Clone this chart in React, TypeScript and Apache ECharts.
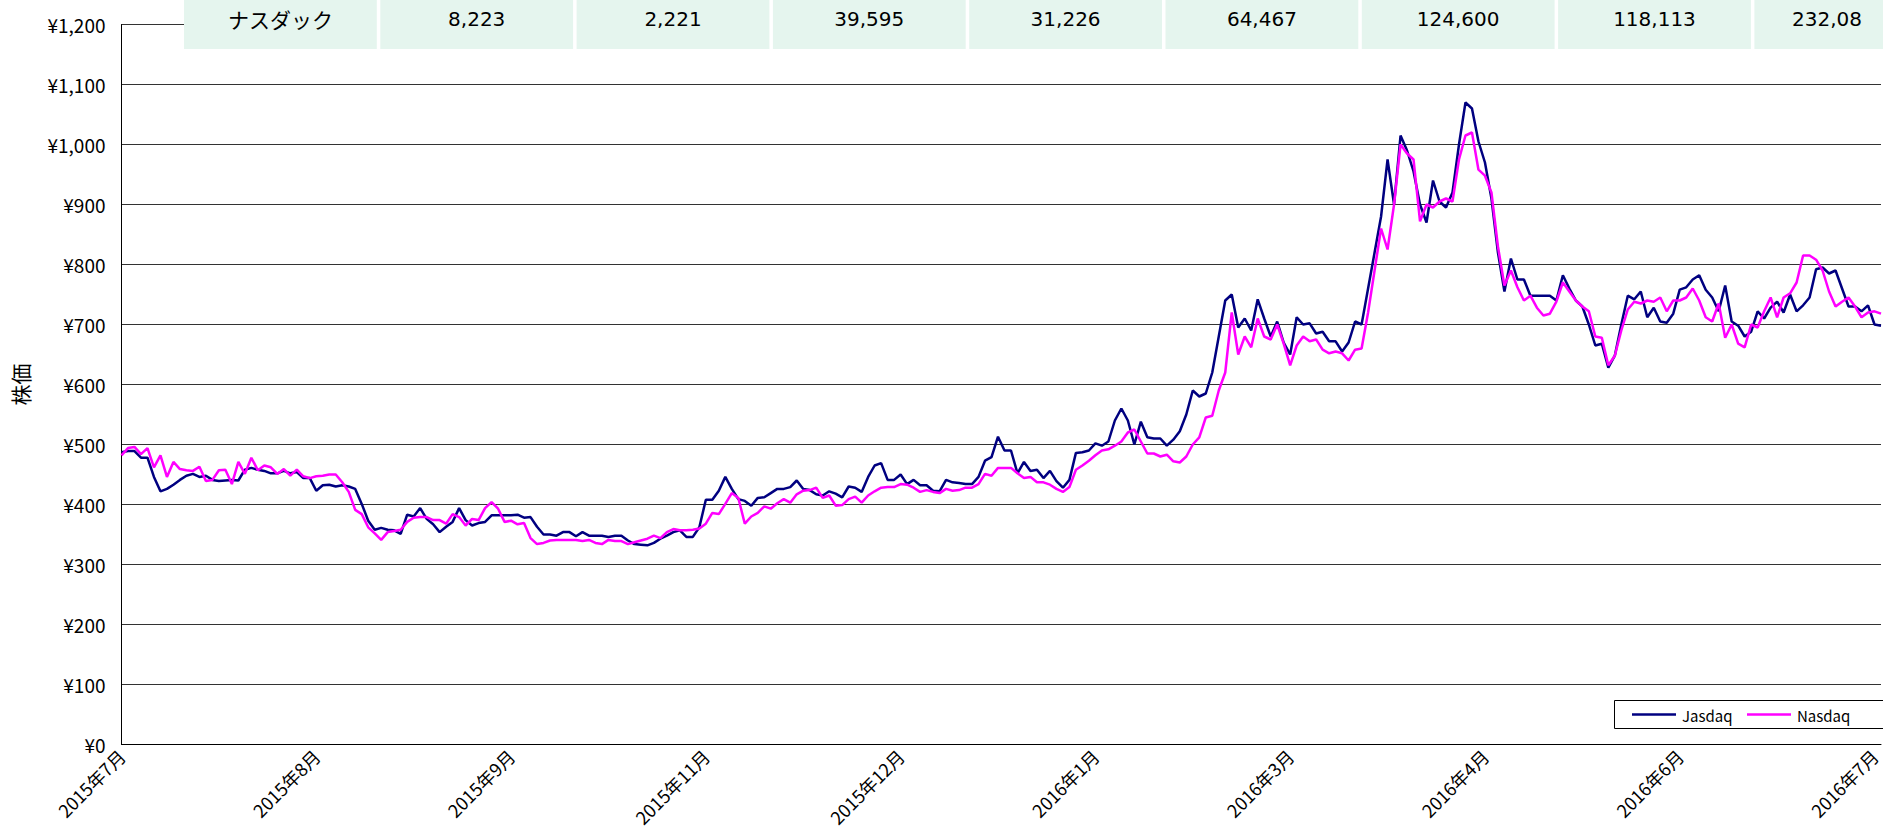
import React, { useEffect, useRef } from 'react';
import * as echarts from 'echarts';

const FONT = '"Noto Sans CJK JP", "Noto Sans", sans-serif';
const NUMFONT = '"DejaVu Sans", "Noto Sans", sans-serif';

const tickLabels = ['2015年7月', '2015年8月', '2015年9月', '2015年11月', '2015年12月', '2016年1月', '2016年3月', '2016年4月', '2016年6月', '2016年7月'];
const tableRow = ['ナスダック', '8,223', '2,221', '39,595', '31,226', '64,467', '124,600', '118,113', '232,08'];
const seriesNames = ['Jasdaq', 'Nasdaq'];
const seriesColors = ['#000080', '#ff00ff'];

const jasdaq = [
  487, 489, 489, 478, 478, 446, 422, 426, 433, 441, 448, 451, 446, 448, 441, 439, 440, 441, 440, 458, 461, 458, 456, 452, 452, 456, 452, 454, 444, 444, 423, 432,
  433, 430, 432, 430, 426, 401, 373, 358, 361, 358, 357, 351, 383, 380, 394, 376, 367, 354, 363, 371, 394, 374, 365, 369, 371, 382, 382, 382, 382, 383,
  378, 379, 363, 350, 350, 348, 354, 354, 347, 354, 348, 348, 348, 346, 348, 348, 340, 334, 333, 332, 336, 343, 348, 354, 357, 346, 346, 362, 408, 408,
  423, 446, 426, 409, 406, 398, 411, 412, 419, 426, 426, 429, 440, 426, 424, 417, 415, 422, 418, 412, 430, 428, 421, 446, 465, 469, 441, 441, 450, 434,
  441, 432, 432, 423, 422, 441, 437, 436, 434, 434, 446, 473, 479, 513, 490, 490, 452, 471, 456, 458, 444, 456, 439, 428, 441, 486, 487, 490, 502, 498,
  505, 540, 560, 540, 500, 538, 512, 510, 510, 498,
  508, 522, 550, 590, 580, 585, 620, 680, 740, 750,
  695, 710, 690, 742, 710, 680, 705, 670, 650, 712,
  700, 702, 685, 688, 672, 672, 655, 670, 705, 700,
  760, 820, 880, 975, 900, 1015, 990, 955, 900, 870,
  940, 905, 895, 920, 1000, 1070, 1060, 1005, 970, 910,
  820, 755, 810, 775, 775, 748, 748, 748, 748, 740,
  782, 760, 740, 730, 700, 665, 668, 628, 648, 700,
  748, 742, 755, 712, 728, 705, 703, 718, 758, 762,
  775, 782, 758, 745, 722, 765, 705, 698, 680, 688,
  722, 710, 728, 738, 720, 750, 722, 732, 745, 792,
  795, 785, 790, 760, 730, 730, 722, 732, 700, 698,
];

const nasdaq = [
  482, 494, 496, 484, 494, 462, 482, 446, 471, 459, 457, 456, 463, 439, 441, 457, 458, 434, 471, 451, 478, 457, 465, 462, 451, 459, 448, 458, 447, 444, 447, 448,
  450, 450, 437, 421, 391, 384, 362, 352, 341, 354, 356, 358, 371, 378, 379, 379, 374, 374, 368, 384, 379, 365, 376, 374, 394, 404, 393, 371, 373, 367,
  369, 344, 334, 336, 340, 341, 341, 341, 341, 339, 341, 336, 334, 341, 339, 339, 334, 337, 340, 343, 348, 344, 354, 359, 357, 357, 358, 360, 368, 386,
  384, 401, 419, 411, 368, 380, 386, 397, 393, 402, 409, 403, 417, 423, 424, 428, 411, 415, 398, 399, 409, 413, 403, 415, 422, 428, 429, 429, 434, 433,
  428, 421, 424, 421, 419, 426, 423, 424, 428, 428, 434, 451, 448, 461, 461, 461, 452, 444, 446, 437, 437, 433, 426, 421, 429, 458, 465, 473, 482, 490,
  492, 498, 505, 520, 525, 505, 485, 485, 480, 483,
  472, 470, 480, 500, 512, 545, 548, 590, 620, 720,
  650, 680, 662, 710, 680, 675, 700, 668, 632, 665,
  680, 672, 675, 658, 652, 655, 652, 640, 658, 660,
  720, 790, 860, 825, 900, 1000, 985, 975, 872, 900,
  895, 905, 910, 905, 975, 1015, 1020, 958, 948, 920,
  830, 765, 790, 762, 740, 748, 728, 715, 718, 738,
  770, 755, 740, 730, 722, 680, 678, 632, 648, 690,
  725, 738, 735, 740, 738, 745, 722, 740, 740, 745,
  760, 740, 712, 705, 735, 678, 700, 668, 662, 700,
  695, 722, 745, 712, 745, 752, 770, 815, 815, 808,
  790, 755, 730, 738, 745, 730, 712, 720, 722, 718,
];

const POINTS_PER_LABEL = 30;
const categories = jasdaq.map((_, i) => tickLabels[Math.min(tickLabels.length - 1, Math.floor(i / POINTS_PER_LABEL))]);

const CELL_X0 = 184;
const CELL_STEP = 196.3;
const CELL_W = 192.8;
const CELL_H = 49;

function buildTableRects() {
  const els: any[] = [];
  els.push({ type: 'rect', z: 99, shape: { x: CELL_X0, y: 0, width: 1883 - CELL_X0, height: CELL_H }, style: { fill: '#ffffff' } });
  tableRow.forEach((_, i) => {
    els.push({ type: 'rect', z: 100, shape: { x: CELL_X0 + i * CELL_STEP, y: 0, width: CELL_W, height: CELL_H }, style: { fill: '#e5f5ee' } });
  });
  return els;
}

function buildTableTitles() {
  return tableRow.map((t, i) => {
    const last = i === tableRow.length - 1;
    return {
      text: t,
      left: last ? 1792 : CELL_X0 + i * CELL_STEP + CELL_W / 2,
      top: 19,
      textAlign: last ? 'left' : 'center',
      textVerticalAlign: 'middle',
      padding: 0,
      z: 120,
      textStyle: { fontSize: i === 0 ? 21 : 20, fontWeight: 'normal', color: '#000', fontFamily: i === 0 ? FONT : NUMFONT },
    };
  });
}

const LEGEND_STARTS = [1632, 1747];

function buildLegendShapes() {
  const els: any[] = [];
  els.push({ type: 'rect', z: 100, shape: { x: 1614.5, y: 700.5, width: 300, height: 28 }, style: { fill: '#fff', stroke: '#000', lineWidth: 1 } });
  seriesNames.forEach((_, i) => {
    const x = LEGEND_STARTS[i];
    els.push({ type: 'line', z: 101, shape: { x1: x, y1: 714.5, x2: x + 44, y2: 714.5 }, style: { stroke: seriesColors[i], lineWidth: 2.5 } });
  });
  return els;
}

function buildLegendTitles() {
  return seriesNames.map((n, i) => ({
    text: n,
    left: LEGEND_STARTS[i] + 50,
    top: 715,
    textAlign: 'left',
    textVerticalAlign: 'middle',
    padding: 0,
    z: 120,
    textStyle: { fontSize: 15, fontWeight: 'normal', color: '#000', fontFamily: FONT },
  }));
}

export default function App() {
  const ref = useRef<HTMLDivElement>(null);
  useEffect(() => {
    const chart = echarts.init(ref.current!, null, { renderer: 'svg' });
    chart.setOption({
      animation: false,
      backgroundColor: '#fff',
      textStyle: { fontFamily: FONT },
      title: [...buildTableTitles(), ...buildLegendTitles()],
      grid: { left: 121.5, top: 24.5, right: -2.5, bottom: 92.5, containLabel: false },
      xAxis: {
        type: 'category', data: categories, boundaryGap: false,
        axisLine: { lineStyle: { color: '#000', width: 1 } },
        axisTick: { show: false },
        axisLabel: { interval: POINTS_PER_LABEL - 1, rotate: 45, fontSize: 18, color: '#000', margin: 8, fontFamily: FONT },
        splitLine: { show: false },
      },
      yAxis: {
        type: 'value', min: 0, max: 1200, interval: 100,
        name: '株価', nameLocation: 'middle', nameGap: 91, nameRotate: 90,
        nameTextStyle: { fontSize: 21, color: '#000', fontFamily: FONT },
        axisLine: { show: true, lineStyle: { color: '#000', width: 1 } },
        axisTick: { show: false },
        axisLabel: { formatter: (v: number) => '¥' + v.toLocaleString('en-US'), fontSize: 19, color: '#000', margin: 16, fontFamily: FONT },
        splitLine: { lineStyle: { color: '#333', width: 1 } },
      },
      series: seriesNames.map((n, i) => ({
        name: n, type: 'line', data: i === 0 ? jasdaq : nasdaq, symbol: 'none',
        lineStyle: { color: seriesColors[i], width: 2.5 }, itemStyle: { color: seriesColors[i] },
      })),
      graphic: [...buildTableRects(), ...buildLegendShapes()],
    });
    return () => chart.dispose();
  }, []);
  return <div ref={ref} style={{ position: 'fixed', left: 0, top: 0, width: 1883, height: 837, overflow: 'hidden', background: '#fff' }} />;
}
